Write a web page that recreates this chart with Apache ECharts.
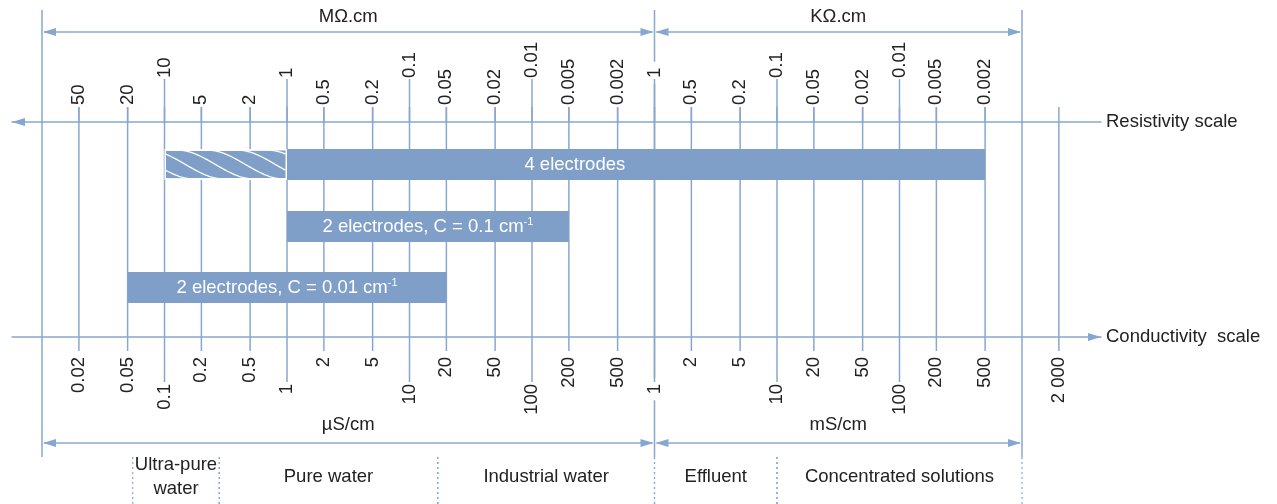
<!DOCTYPE html>
<html>
<head>
<meta charset="utf-8">
<script src="https://cdn.jsdelivr.net/npm/echarts@6/dist/echarts.min.js"></script>
<style>
html,body{margin:0;padding:0;background:#ffffff;}
#chart{width:1277px;height:504px;}
</style>
</head>
<body>
<div id="chart"></div>
<script>
// ---------------- DATA ----------------
// Resistivity tick labels (top scale)
const resistivityMOhmTicks = [50, 20, 10, 5, 2, 1, 0.5, 0.2, 0.1, 0.05, 0.02, 0.01, 0.005, 0.002]; // MΩ.cm
const resistivityKOhmTicks = [1, 0.5, 0.2, 0.1, 0.05, 0.02, 0.01, 0.005, 0.002];                   // KΩ.cm
// Conductivity tick labels (bottom scale)
const conductivityMicroSTicks = [0.02, 0.05, 0.1, 0.2, 0.5, 1, 2, 5, 10, 20, 50, 100, 200, 500];     // µS/cm
const conductivityMilliSTicks = [1, 2, 5, 10, 20, 50, 100, 200, 500, 2000];                          // mS/cm

// Unit ranges
const resistivityUnitNames = ['MΩ.cm', 'KΩ.cm'];
const resistivityUnitFrom = [100, 1];        // in own unit
const resistivityUnitTo = [0.001, 0.001];    // in own unit
const conductivityUnitNames = ['µS/cm', 'mS/cm'];
const conductivityUnitFrom = [0.01, 1];      // in own unit
const conductivityUnitTo = [1000, 1000];     // in own unit

// Water types (conductivity ranges, µS/cm)
const waterNames = ['Ultra-pure\nwater', 'Pure water', 'Industrial water', 'Effluent', 'Concentrated solutions'];
const waterFrom = [0.055, 0.28, 17, 1000, 10000];
const waterTo = [0.28, 17, 1000, 10000, 1000000];

// Measuring cells (conductivity ranges, µS/cm)
const cellNames = ['4 electrodes', '2 electrodes, C = 0.1 cm', '2 electrodes, C = 0.01 cm'];
const cellSuperscripts = ['', '-1', '-1'];
const cellFrom = [0.1, 1, 0.05];
const cellTo = [500000, 200, 20];
const cellHatchTo = [1, null, null];

// ---------------- UNIT CONVERSIONS (to µS/cm) ----------------
const MOHM_FACTOR = 1;      // σ[µS/cm] = 1 / ρ[MΩ.cm]
const KOHM_FACTOR = 1000;   // σ[µS/cm] = 1000 / ρ[KΩ.cm]
const MICROS_FACTOR = 1;
const MILLIS_FACTOR = 1000;

// ---------------- STYLE / LAYOUT ----------------
const lineColor = '#88a7d0';
const barColor = '#7f9fc8';
const textColor = '#222222';
const FAMILY = '"Liberation Sans", Arial, Helvetica, sans-serif';
const FS = 18.5;
const font = s => s + 'px ' + FAMILY;
const LAY = {
  frameTop: 10, frameBottom: 457, dottedBottom: 504,
  topArrowY: 32, topUnitY: 17,
  bottomArrowY: 443, bottomUnitY: 425,
  resAxisY: 122,
  resLabelBottom: 105, resLabelBottomDecade: 78,
  resLineTop: 107, resLineTopDecade: 79,
  condLineTop: 107, condLineBottom: 351, condLineBottomDecade: 382,
  condLabelTop: 357, condLabelTopDecade: 384,
  labelPad: 6,
  waterLabelY: 477, waterLineHeight: 24,
  barTops: [149, 211, 272], barHeight: 31,
  arrowLen: 13, arrowHalf: 4,
  lineWidth: 1.5
};
const X_MIN = Math.pow(10, -2.245);
const X_MAX = Math.pow(10, 6.645);

function isDecade(v) { const l = Math.log10(v); return Math.abs(l - Math.round(l)) < 1e-9; }
function fmt(n) { return String(n).replace(/\B(?=(\d{3})+(?!\d))/g, ' '); }

// ---------------- DERIVED SERIES DATA ----------------
const resTickData = resistivityMOhmTicks.map(r => [MOHM_FACTOR / r, 0, r])
  .concat(resistivityKOhmTicks.map(r => [KOHM_FACTOR / r, 0, r]));
const condTickData = conductivityMicroSTicks.map(c => [c * MICROS_FACTOR, 0, c])
  .concat(conductivityMilliSTicks.map(c => [c * MILLIS_FACTOR, 0, c]));
const unitLabels = resistivityUnitNames.concat(conductivityUnitNames);
const unitData = [
  [MOHM_FACTOR / resistivityUnitFrom[0], MOHM_FACTOR / resistivityUnitTo[0], 0],
  [KOHM_FACTOR / resistivityUnitFrom[1], KOHM_FACTOR / resistivityUnitTo[1], 0],
  [conductivityUnitFrom[0] * MICROS_FACTOR, conductivityUnitTo[0] * MICROS_FACTOR, 1],
  [conductivityUnitFrom[1] * MILLIS_FACTOR, conductivityUnitTo[1] * MILLIS_FACTOR, 1]
];
const frameEdges = [];
unitData.forEach(d => [d[0], d[1]].forEach(v => {
  if (!frameEdges.some(e => Math.abs(e - v) / v < 1e-9)) frameEdges.push(v);
}));
const frameData = frameEdges.map(v => [v, 0]);
const waterData = waterFrom.map((f, i) => [f, waterTo[i]]);
const cellData = cellFrom.map((f, i) => [f, cellTo[i]]);

// ---------------- RENDERERS ----------------
function cx(api, v) { return api.coord([v, 0])[0]; }

function renderFrame(params, api) {
  const x = cx(api, api.value(0));
  return { type: 'line', shape: { x1: x, y1: LAY.frameTop, x2: x, y2: LAY.frameBottom },
    style: { stroke: lineColor, lineWidth: LAY.lineWidth } };
}

function labelBg() { return { backgroundColor: '#ffffff', padding: [0, LAY.labelPad] }; }

function renderResTick(params, api) {
  const v = api.value(0), lab = api.value(2);
  const x = cx(api, v);
  const dec = isDecade(v);
  const yLab = (dec ? LAY.resLabelBottomDecade : LAY.resLabelBottom) + LAY.labelPad;
  const yLine = dec ? LAY.resLineTopDecade : LAY.resLineTop;
  return { type: 'group', children: [
    { type: 'text', x: x, y: yLab, rotation: Math.PI / 2, z2: 1,
      style: Object.assign({ text: fmt(lab), fill: textColor, font: font(FS), align: 'left', verticalAlign: 'middle' }, labelBg()) },
    { type: 'line', z2: 2, shape: { x1: x, y1: yLine, x2: x, y2: LAY.resAxisY },
      style: { stroke: lineColor, lineWidth: LAY.lineWidth } }
  ] };
}

function renderCondTick(params, api) {
  const v = api.value(0), lab = api.value(2);
  const x = cx(api, v);
  const dec = isDecade(v);
  const yLab = (dec ? LAY.condLabelTopDecade : LAY.condLabelTop) - LAY.labelPad;
  const yLine = dec ? LAY.condLineBottomDecade : LAY.condLineBottom;
  return { type: 'group', children: [
    { type: 'text', x: x, y: yLab, rotation: Math.PI / 2, z2: 1,
      style: Object.assign({ text: fmt(lab), fill: textColor, font: font(FS), align: 'right', verticalAlign: 'middle' }, labelBg()) },
    { type: 'line', z2: 2, shape: { x1: x, y1: LAY.condLineTop, x2: x, y2: yLine },
      style: { stroke: lineColor, lineWidth: LAY.lineWidth } }
  ] };
}

function renderUnit(params, api) {
  const a = cx(api, api.value(0)), b = cx(api, api.value(1));
  const top = api.value(2) === 0;
  const y = top ? LAY.topArrowY : LAY.bottomArrowY;
  const ly = top ? LAY.topUnitY : LAY.bottomUnitY;
  const L = LAY.arrowLen, H = LAY.arrowHalf;
  return { type: 'group', children: [
    { type: 'line', shape: { x1: a + 2, y1: y, x2: b - 2, y2: y }, style: { stroke: lineColor, lineWidth: LAY.lineWidth } },
    { type: 'polygon', shape: { points: [[a + 1, y], [a + 1 + L, y - H], [a + 1 + L, y + H]] }, style: { fill: lineColor } },
    { type: 'polygon', shape: { points: [[b - 1, y], [b - 1 - L, y - H], [b - 1 - L, y + H]] }, style: { fill: lineColor } },
    { type: 'text', x: (a + b) / 2, y: ly,
      style: { text: unitLabels[params.dataIndex], fill: textColor, font: font(FS), align: 'center', verticalAlign: 'middle' } }
  ] };
}

function renderWater(params, api) {
  const a = cx(api, api.value(0)), b = cx(api, api.value(1));
  const dotted = x => ({ type: 'line', shape: { x1: x, y1: LAY.frameBottom, x2: x, y2: LAY.dottedBottom },
    style: { stroke: lineColor, lineWidth: 1.2, lineDash: [2, 3] } });
  return { type: 'group', children: [
    dotted(a), dotted(b),
    { type: 'text', x: (a + b) / 2, y: LAY.waterLabelY,
      style: { text: waterNames[params.dataIndex], fill: textColor, font: font(FS), align: 'center',
        verticalAlign: 'middle', lineHeight: LAY.waterLineHeight } }
  ] };
}

function renderCell(params, api) {
  const i = params.dataIndex;
  const x1 = cx(api, api.value(0)), x2 = cx(api, api.value(1));
  const top = LAY.barTops[i], h = LAY.barHeight;
  const children = [];
  const hatchTo = cellHatchTo[i];
  const solidStart = hatchTo ? cx(api, hatchTo) : x1;
  children.push({ type: 'rect', shape: { x: solidStart, y: top, width: x2 - solidStart, height: h }, style: { fill: barColor } });
  if (hatchTo) {
    const hx1 = x1, hx2 = solidStart;
    children.push({ type: 'rect', shape: { x: hx1 + 0.75, y: top + 0.75, width: hx2 - hx1 - 1.5, height: h - 1.5 },
      style: { fill: barColor, stroke: '#ffffff', lineWidth: 1.5 } });
    const run = 78, step = 30;
    for (let x0 = hx1 - run; x0 < hx2; x0 += step) {
      const pts = [];
      for (let x = hx1 + 1; x <= hx2 - 1; x += 1.5) {
        let t = (x - x0) / run; t = Math.max(0, Math.min(1, t));
        const s = 0.5 - 0.5 * Math.cos(Math.PI * t);
        pts.push([x, top + 1 + (h - 2) * s]);
      }
      children.push({ type: 'polyline', shape: { points: pts }, style: { stroke: '#ffffff', lineWidth: 1.3, fill: null } });
    }
  }
  const sup = cellSuperscripts[i];
  const txt = sup ? '{m|' + cellNames[i] + '}{s|' + sup + '}' : '{m|' + cellNames[i] + '}';
  children.push({ type: 'text', x: (x1 + x2) / 2, y: top + h / 2,
    style: { text: txt, fill: '#ffffff', font: font(FS), align: 'center', verticalAlign: 'middle',
      rich: {
        m: { fill: '#ffffff', fontSize: FS, fontFamily: FAMILY, lineHeight: 20 },
        s: { fill: '#ffffff', fontSize: 11, fontFamily: FAMILY, lineHeight: 12, verticalAlign: 'top' }
      } } });
  return { type: 'group', children: children };
}

// ---------------- CHART ----------------
const chart = echarts.init(document.getElementById('chart'), null, { renderer: 'canvas' });
const axisBase = {
  type: 'log', logBase: 10, min: X_MIN, max: X_MAX, gridIndex: 0,
  axisTick: { show: false }, axisLabel: { show: false }, splitLine: { show: false },
  minorTick: { show: false }, minorSplitLine: { show: false }
};
chart.setOption({
  backgroundColor: '#ffffff',
  animation: false,
  grid: { left: 12, right: 176, top: 122, bottom: 167, containLabel: false, outerBoundsMode: 'none' },
  xAxis: [
    Object.assign({}, axisBase, {
      position: 'top',
      axisLine: { show: true, onZero: false, symbol: ['triangle', 'none'], symbolSize: [8, 13], symbolOffset: [6.5, 0],
        lineStyle: { color: lineColor, width: LAY.lineWidth } },
      name: 'Resistivity scale', nameLocation: 'end', nameGap: 5,
      nameTextStyle: { color: textColor, fontSize: FS, fontFamily: FAMILY, padding: [0, 0, 10, 0], verticalAlign: 'middle', align: 'left' }
    }),
    Object.assign({}, axisBase, {
      position: 'bottom',
      axisLine: { show: true, onZero: false, symbol: ['none', 'triangle'], symbolSize: [8, 13], symbolOffset: [0, -6.5],
        lineStyle: { color: lineColor, width: LAY.lineWidth } },
      name: 'Conductivity  scale', nameLocation: 'end', nameGap: 5,
      nameTextStyle: { color: textColor, fontSize: FS, fontFamily: FAMILY, padding: [0, 0, 12, 0], verticalAlign: 'middle', align: 'left' }
    })
  ],
  yAxis: { type: 'value', min: 0, max: 1, show: false },
  series: [
    { type: 'custom', name: 'frame', xAxisIndex: 1, z: 1, silent: true, data: frameData, renderItem: renderFrame },
    { type: 'custom', name: 'water', xAxisIndex: 1, z: 1, silent: true, data: waterData, renderItem: renderWater, encode: { x: 0 } },
    { type: 'custom', name: 'units', xAxisIndex: 1, z: 2, silent: true, data: unitData, renderItem: renderUnit, encode: { x: 0 } },
    { type: 'custom', name: 'resistivity', xAxisIndex: 1, z: 3, silent: true, data: resTickData, renderItem: renderResTick },
    { type: 'custom', name: 'conductivity', xAxisIndex: 1, z: 3, silent: true, data: condTickData, renderItem: renderCondTick },
    { type: 'custom', name: 'cells', xAxisIndex: 1, z: 5, silent: true, data: cellData, renderItem: renderCell, encode: { x: 0 } }
  ]
});
</script>
</body>
</html>
